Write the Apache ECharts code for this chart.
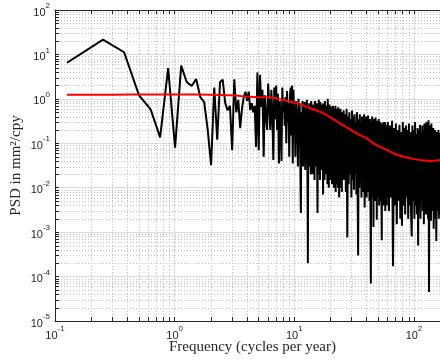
<!DOCTYPE html>
<html><head><meta charset="utf-8">
<script src="https://cdn.jsdelivr.net/npm/echarts@6/dist/echarts.min.js"></script>
<style>html,body{margin:0;padding:0;background:#fff}#c{width:440px;height:361px}</style>
</head><body><div id="c"></div>
<script>
// ---- frequency grids (cycles per year) ----
const lowFreqStart = 0.126, lowFreqStep = 0.126;
const bandAStart = 10.08, bandAStep = 0.126;
const bandBStart = 25.83, bandBStep = 0.378;
const bandCStart = 60.48, bandCStep = 1.26;

// ---- PSD values (mm^2/cpy) ----
const psdLow = [6.5,21.5,11.2,1.2,0.58,0.136,4.9,0.08,5.6,2.4,1.95,2.8,1.1,0.85,0.2,0.032,1.8,0.12,2.4,2.7,
  0.8,0.55,0.7,0.07,2.75,0.5,0.95,0.22,0.6,1.1,1.45,0.9,1.45,0.56,0.8,0.5,0.7,0.083,3.9,0.07,
  3.5,0.66,1.6,0.05,1.2,0.4,0.2,2.2,2.0,0.2,1.6,0.45,0.042,1.8,0.35,2.0,0.2,1.3,0.035,0.9,
  0.3,0.04,1.8,0.5,0.9,0.25,1.1,0.1,1.5,0.3,0.8,0.05,1.2,1.8,0.15,2.0,0.035,1.6,0.4];
const psdBandA = [0.7,0.05,0.9,0.1,0.6,0.03,1.0,0.2,0.8,0.04,0.0027,0.5,0.06,0.9,0.03,0.7,0.15,0.85,0.025,0.6,
  0.04,0.95,0.08,0.0002,0.7,0.03,0.8,0.12,0.5,0.02,0.9,0.05,0.65,0.02,0.75,0.1,0.55,0.015,0.9,0.04,
  0.6,0.03,0.8,0.06,0.0027,0.7,0.02,0.95,0.08,0.5,0.015,0.85,0.04,0.6,0.025,0.75,0.06,0.5,0.007,0.8,
  0.03,0.65,0.015,0.9,0.05,0.55,0.02,0.7,0.03,0.5,0.012,1.0,0.04,0.6,0.01,0.75,0.025,0.55,0.05,0.7,
  0.015,0.5,0.03,0.65,0.012,0.45,0.04,0.7,0.02,0.5,0.01,0.6,0.03,0.45,0.015,0.7,0.008,0.5,0.025,0.6,
  0.012,0.4,0.03,0.55,0.01,0.65,0.02,0.45,0.006,0.55,0.015,0.4,0.03,0.6,0.01,0.45,0.02,0.5,0.008,0.4,0.015];
const psdBandB = [0.55,0.015,0.45,0.008,0.6,0.00076,0.4,0.012,0.5,0.02,0.35,0.006,0.55,0.015,0.4,0.009,0.45,0.02,0.3,0.007,
  0.5,0.012,0.0003,0.35,0.01,0.45,0.018,0.3,0.006,0.4,0.012,0.35,0.008,0.45,0.0036,0.3,0.01,0.4,0.006,0.3,
  0.015,0.42,0.008,0.28,0.005,0.35,0.012,0.00007,0.3,0.008,0.4,0.006,0.25,0.0013,0.35,0.01,0.28,0.005,0.38,0.008,
  0.25,0.0019,0.32,0.006,0.22,0.01,0.35,0.004,0.25,0.007,0.3,0.005,0.22,0.009,0.00066,0.28,0.005,0.2,0.008,0.3,
  0.004,0.24,0.006,0.3,0.003,0.2,0.007,0.26,0.004,0.22,0.006];
const psdBandC = [0.3,0.003,0.25,0.006,0.32,0.00017,0.22,0.004,0.28,0.0015,0.2,0.005,0.26,0.002,0.18,0.0014,0.3,0.004,0.22,0.0025,
  0.25,0.006,0.2,0.002,0.28,0.004,0.18,0.003,0.0008,0.25,0.005,0.2,0.002,0.3,0.004,0.16,0.0025,0.22,0.0005,0.2,
  0.004,0.26,0.002,0.18,0.006,0.25,0.003,0.2,0.0015,0.28,0.004,0.16,0.0025,0.3,0.005,0.22,0.002,0.33,0.000045,0.25,
  0.004,0.2,0.0018,0.28,0.005,0.18,0.003,0.22,0.0012,0.16,0.004,0.2,0.002,0.15,0.00063,0.18,0.003,0.14,0.005,0.2,
  0.002,0.13,0.004,0.17,0.0025,0.14,0.005,0.18,0.003,0.15,0.002,0.16,0.004,0.13,0.003,0.15,0.005];

// ---- smooth fitted spectrum (red) ----
const redFreq = [0.126,0.3,0.6,1,1.5,2,3,4.27,5.5,6.6,8.1,9.2,11.2,12.7,17.5,24.1,33.2,40,45.7,55,63,75,86.9,100,119.6,140,165,200];
const redPsd  = [1.24,1.245,1.25,1.25,1.25,1.24,1.2,1.11,1.085,1.06,0.94,0.86,0.76,0.66,0.47,0.28,0.167,0.13,0.1,0.078,0.065,0.053,0.048,0.044,0.041,0.040,0.042,0.045];

// ---- axes ----
const xMin = 0.1, xMax = 200, yMin = 1e-5, yMax = 1e2;
const minorMult = [2,3,4,5,6,7,8,9];
const xDecades = [-1,0,1,2];
const yDecades = [-5,-4,-3,-2,-1,0,1];

function band(start, step, vals) { return vals.map((v, i) => [start + step * i, v]); }
const blackData = [].concat(
  band(lowFreqStart, lowFreqStep, psdLow),
  band(bandAStart, bandAStep, psdBandA),
  band(bandBStart, bandBStep, psdBandB),
  band(bandCStart, bandCStep, psdBandC));
const redData = redFreq.map((f, i) => [f, redPsd[i]]);

const minorData = [];
xDecades.forEach(d => minorMult.forEach(m => { const v = m * Math.pow(10, d); if (v < xMax) minorData.push([v, 1, 0]); }));
yDecades.forEach(d => minorMult.forEach(m => minorData.push([1, m * Math.pow(10, d), 1])));

const axisColor = '#262626';
const labelFmt = v => '{b|10}{s|' + Math.round(Math.log10(v)) + '}';
const rich = {
  b: { fontSize: 11, fontFamily: 'Liberation Sans', color: axisColor, verticalAlign: 'bottom', lineHeight: 16 },
  s: { fontSize: 8, fontFamily: 'Liberation Sans', color: axisColor, verticalAlign: 'top', lineHeight: 16 }
};

const chart = echarts.init(document.getElementById('c'), null, { renderer: 'canvas' });
chart.setOption({
  animation: false,
  backgroundColor: '#fff',
  grid: { left: 55, top: 10, right: -10, bottom: 40, containLabel: false, outerBoundsMode: 'none' },
  xAxis: [{
    type: 'log', logBase: 10, min: xMin, max: xMax, position: 'bottom',
    name: 'Frequency (cycles per year)', nameLocation: 'middle', nameGap: 19, nameMoveOverlap: false,
    nameTextStyle: { fontFamily: 'Liberation Serif', fontSize: 15, color: axisColor },
    axisLine: { show: true, lineStyle: { color: axisColor, width: 1 } },
    axisTick: { show: true, inside: true, length: 4, lineStyle: { color: axisColor } },
    axisLabel: { formatter: labelFmt, rich: rich, margin: 4, showMaxLabel: false },
    splitLine: { show: true, lineStyle: { color: '#dedede', width: 1 } },
    minorTick: { show: false }, minorSplitLine: { show: false }
  }, {
    type: 'log', logBase: 10, min: xMin, max: xMax, position: 'top',
    axisLine: { show: true, lineStyle: { color: axisColor, width: 1 } },
    axisTick: { show: true, inside: true, length: 4, lineStyle: { color: axisColor } },
    axisLabel: { show: false }, splitLine: { show: false }
  }],
  yAxis: [{
    type: 'log', logBase: 10, min: yMin, max: yMax,
    name: 'PSD in mm²/cpy', nameLocation: 'middle', nameGap: 31, nameMoveOverlap: false,
    nameTextStyle: { fontFamily: 'Liberation Serif', fontSize: 15, color: axisColor },
    axisLine: { show: true, lineStyle: { color: axisColor, width: 1 } },
    axisTick: { show: true, inside: true, length: 4, lineStyle: { color: axisColor } },
    axisLabel: { formatter: labelFmt, rich: rich, margin: 5 },
    splitLine: { show: true, lineStyle: { color: '#dedede', width: 1 } }
  }],
  series: [{
    type: 'custom', z: 1, silent: true, clip: false,
    xAxisIndex: 0, yAxisIndex: 0,
    encode: { x: 0, y: 1 },
    data: minorData,
    renderItem: function (params, api) {
      const t = api.value(2);
      const dash = { stroke: '#c2c2c2', lineWidth: 1, lineDash: [1, 2] };
      const tick = { stroke: axisColor, lineWidth: 1 };
      if (t === 0) {
        const v = api.value(0);
        const p0 = api.coord([v, yMin]), p1 = api.coord([v, yMax]);
        const x = Math.round(p0[0]) + 0.5;
        return { type: 'group', children: [
          { type: 'line', shape: { x1: x, y1: p0[1], x2: x, y2: p1[1] }, style: dash, z2: 1 },
          { type: 'line', shape: { x1: x, y1: p0[1], x2: x, y2: p0[1] - 4 }, style: tick, z2: 5 },
          { type: 'line', shape: { x1: x, y1: p1[1], x2: x, y2: p1[1] + 4 }, style: tick, z2: 5 }
        ]};
      } else {
        const v = api.value(1);
        const p0 = api.coord([xMin, v]), p1 = api.coord([xMax, v]);
        const y = Math.round(p0[1]) + 0.5;
        return { type: 'group', children: [
          { type: 'line', shape: { x1: p0[0], y1: y, x2: p1[0], y2: y }, style: dash, z2: 1 },
          { type: 'line', shape: { x1: p0[0], y1: y, x2: p0[0] + 4, y2: y }, style: tick, z2: 5 }
        ]};
      }
    }
  }, {
    type: 'line', z: 3, data: blackData, showSymbol: false, symbol: 'none',
    lineStyle: { color: '#000', width: 2 }, sampling: null, silent: true
  }, {
    type: 'line', z: 4, data: redData, showSymbol: false, symbol: 'none', smooth: 0.3,
    lineStyle: { color: '#ff0000', width: 2 }, silent: true
  }]
});
</script>
</body></html>
